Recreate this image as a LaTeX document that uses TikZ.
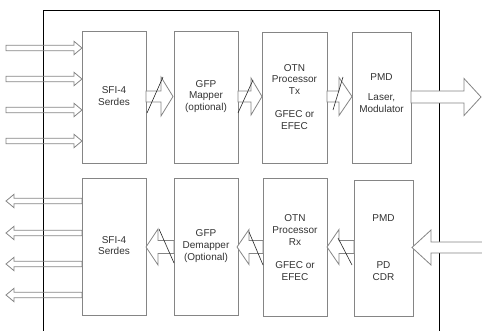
\documentclass[tikz,border=0pt]{standalone}
\usepackage{fontspec}
\setmainfont{Liberation Sans}
\usetikzlibrary{calc}
\definecolor{boxgray}{HTML}{858585}
\definecolor{txt}{HTML}{333333}
% #1 tail, #2 tip, #3 signed head length, #4 body half height, #5 head half height
\newcommand\fatarrow[6][]{%
  \draw[arrowline,#1] ($(#2)+(0,-#5)$) -- ($(#3)-(#4,#5)$) -- ($(#3)-(#4,#6)$) -- (#3)
    -- ($(#3)-(#4,-#6)$) -- ($(#3)-(#4,-#5)$) -- ($(#2)+(0,#5)$) -- cycle;}
\tikzset{
  blk/.style={draw=boxgray, line width=0.8pt, fill=white, inner sep=0pt, rectangle},
  lbl/.style={align=center, text=txt, font=\fontsize{10}{11.7}\selectfont, inner sep=0pt},
  arrowline/.style={draw=boxgray, line width=0.8pt, fill=white, line join=miter},
  thinarrow/.style={fill=none},
  slash/.style={draw=black!85, line width=0.6pt},
  frame/.style={draw=black, line width=0.7pt}
}
\begin{document}
\begin{tikzpicture}[x=1pt, y=-1pt]
\useasboundingbox (0,0) rectangle (482,331);
% frame
\draw[frame] (43,332) -- (43,10) -- (439,10) -- (439,332);
% blocks top
\node[blk, minimum width=64pt, minimum height=132pt] (s1) at (114,97) {};
\node[blk, minimum width=64pt, minimum height=132pt] (m1) at (206,97) {};
\node[blk, minimum width=65pt, minimum height=131pt] (o1) at (294.5,97.5) {};
\node[blk, minimum width=59pt, minimum height=131pt] (p1) at (381.5,97.5) {};
% blocks bottom
\node[blk, minimum width=64pt, minimum height=137pt] (s2) at (114,246.5) {};
\node[blk, minimum width=64pt, minimum height=137pt] (m2) at (206,246.5) {};
\node[blk, minimum width=64pt, minimum height=138pt] (o2) at (295,247) {};
\node[blk, minimum width=59pt, minimum height=136pt] (p2) at (383.5,248) {};
% labels
\node[lbl] (ts1) at (114,96) {SFI-4\\Serdes};
\node[lbl] (tm1) at (206,96.5) {GFP\\Mapper\\(optional)};
\node[lbl] (to1) at (294.5,97) {OTN\\Processor\\Tx\\[11.7pt]GFEC or\\EFEC};
\node[lbl] (tp1) at (381.5,93) {PMD\\[9pt]Laser,\\Modulator};
\node[lbl] (ts2) at (114,245.5) {SFI-4\\Serdes};
\node[lbl] (tm2) at (206,246) {GFP\\Demapper\\(Optional)};
\node[lbl] (to2) at (295,247.5) {OTN\\Processor\\Rx\\[11.7pt]GFEC or\\EFEC};
\node[lbl] (tp2) at (383.5,247.5) {PMD\\[35pt]PD\\CDR};
% small input arrows (top left)
\foreach \yy in {48,79,110,141}{
  \coordinate (a) at (6,\yy); \coordinate (b) at (82,\yy);
  \fatarrow[thinarrow]{a}{b}{8}{2.7}{6.7}
}
% small output arrows (bottom left)
\foreach \yy in {201,233,264,295}{
  \coordinate (a) at (82,\yy); \coordinate (b) at (6,\yy);
  \fatarrow[thinarrow]{a}{b}{-8}{2.7}{6.7}
}
% wide arrows top row
\coordinate (t1a) at (146,96.5); \coordinate (t1b) at (173,96.5);
\fatarrow{t1a}{t1b}{12}{5.5}{19.5}
\coordinate (t2a) at (238,96.5); \coordinate (t2b) at (262,96.5);
\fatarrow{t2a}{t2b}{11}{5.5}{18.5}
\coordinate (t3a) at (327,96.5); \coordinate (t3b) at (352,96.5);
\fatarrow{t3a}{t3b}{13}{5.5}{19}
\coordinate (t4a) at (411,97); \coordinate (t4b) at (481,97);
\fatarrow{t4a}{t4b}{17}{6}{18.5}
% wide arrows bottom row
\coordinate (b1a) at (174,247); \coordinate (b1b) at (146,247);
\fatarrow{b1a}{b1b}{-12}{6.5}{18}
\coordinate (b2a) at (263,247); \coordinate (b2b) at (237,247);
\fatarrow{b2a}{b2b}{-12}{6.5}{17.5}
\coordinate (b3a) at (354,247); \coordinate (b3b) at (327,247);
\fatarrow{b3a}{b3b}{-12}{6.5}{17.5}
\coordinate (b4a) at (484,247.5); \coordinate (b4b) at (412,247.5);
\fatarrow{b4a}{b4b}{-19}{5.5}{17.5}
% slashes
\draw[slash] (147,113) -- (163,77);
\draw[slash] (238,113) -- (253,80);
\draw[slash] (333,110) -- (343,77);
\draw[slash] (159,229) -- (174,263);
\draw[slash] (249,232) -- (263,265);
\draw[slash] (338,238) -- (352,265);
\end{tikzpicture}
\end{document}
